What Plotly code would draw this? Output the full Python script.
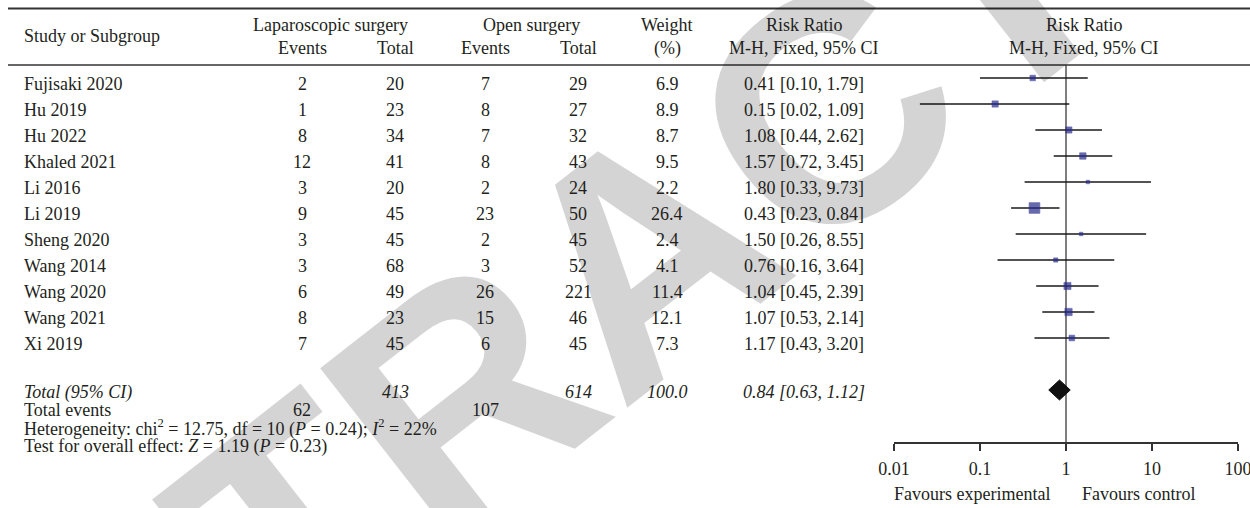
import math
import plotly.graph_objects as go

# ---------------- data ----------------
studies = ["Fujisaki 2020", "Hu 2019", "Hu 2022", "Khaled 2021", "Li 2016", "Li 2019",
           "Sheng 2020", "Wang 2014", "Wang 2020", "Wang 2021", "Xi 2019"]
lap_events = [2, 1, 8, 12, 3, 9, 3, 3, 6, 8, 7]
lap_total = [20, 23, 34, 41, 20, 45, 45, 68, 49, 23, 45]
open_events = [7, 8, 7, 8, 2, 23, 2, 3, 26, 15, 6]
open_total = [29, 27, 32, 43, 24, 50, 45, 52, 221, 46, 45]
weight = [6.9, 8.9, 8.7, 9.5, 2.2, 26.4, 2.4, 4.1, 11.4, 12.1, 7.3]
rr = [0.41, 0.15, 1.08, 1.57, 1.80, 0.43, 1.50, 0.76, 1.04, 1.07, 1.17]
ci_low = [0.10, 0.02, 0.44, 0.72, 0.33, 0.23, 0.26, 0.16, 0.45, 0.53, 0.43]
ci_high = [1.79, 1.09, 2.62, 3.45, 9.73, 0.84, 8.55, 3.64, 2.39, 2.14, 3.20]

total_lap = 413
total_open = 614
total_weight = 100.0
total_rr = 0.84
total_low = 0.63
total_high = 1.12
total_events_lap = 62
total_events_open = 107

het_label = "Heterogeneity: chi<sup>2</sup> = 12.75, df = 10 (<i>P</i> = 0.24); <i>I</i><sup>2</sup> = 22%"
test_label = "Test for overall effect: <i>Z</i> = 1.19 (<i>P</i> = 0.23)"
axis_ticks = [0.01, 0.1, 1, 10, 100]
axis_ticktext = ["0.01", "0.1", "1", "10", "100"]
favours_left = "Favours experimental"
favours_right = "Favours control"

# ---------------- layout helpers ----------------
W, H = 1250, 508
ROW0, PITCH = 78, 26           # pixel y of first study row, row pitch
FONT = "Liberation Serif"
FS = 18
TXT = "#231f20"
NAVY = "#262a8c"


def r(p):
    """pixel y -> row coordinate"""
    return (p - ROW0) / PITCH


def px(x):
    return x / W


annotations = []

# watermark (drawn first so table text sits on top)
annotations.append(dict(
    text="<b>RETRACTED</b>", x=0.515, y=0.50, xref="paper", yref="paper",
    showarrow=False, textangle=-38,
    font=dict(family="Liberation Sans", size=320, color="rgba(0,0,0,0.17)")))


def txt(x, y, s, anchor="center", size=FS, italic=False):
    if italic:
        s = "<i>" + s + "</i>"
    annotations.append(dict(text=s, x=px(x), y=y, xref="paper", yref="y",
                            xanchor=anchor, yanchor="middle", showarrow=False,
                            font=dict(family=FONT, size=size, color=TXT)))


# column centres (pixels)
C_STUDY = 22
C_LE, C_LT = 302, 395
C_OE, C_OT = 485, 578
C_W = 667
C_CI = 804
C_PLOT = 1084

# headers
txt(C_STUDY, r(36), "Study or Subgroup", "left")
txt(330, r(25), "Laparoscopic surgery")
txt(531, r(25), "Open surgery")
txt(C_W, r(25), "Weight")
txt(C_CI, r(25), "Risk Ratio")
txt(C_PLOT, r(25), "Risk Ratio")
txt(C_LE, r(48), "Events")
txt(C_LT, r(48), "Total")
txt(C_OE, r(48), "Events")
txt(C_OT, r(48), "Total")
txt(C_W, r(48), "(%)")
txt(C_CI, r(48), "M-H, Fixed, 95% CI")
txt(C_PLOT, r(48), "M-H, Fixed, 95% CI")

# study rows
TOFF = 6 / PITCH
for i, s in enumerate(studies):
    y = i + TOFF
    txt(C_STUDY, y, s, "left")
    txt(C_LE, y, str(lap_events[i]))
    txt(C_LT, y, str(lap_total[i]))
    txt(C_OE, y, str(open_events[i]))
    txt(C_OT, y, str(open_total[i]))
    txt(C_W, y, f"{weight[i]:.1f}")
    txt(C_CI, y, f"{rr[i]:.2f} [{ci_low[i]:.2f}, {ci_high[i]:.2f}]")

# totals
TOT_ROW = len(studies) + 1
yt = r(392)
txt(C_STUDY, yt, "Total (95% CI)", "left", italic=True)
txt(C_LT, yt, str(total_lap), italic=True)
txt(C_OT, yt, str(total_open), italic=True)
txt(C_W, yt, f"{total_weight:.1f}", italic=True)
txt(C_CI, yt, f"{total_rr:.2f} [{total_low:.2f}, {total_high:.2f}]", italic=True)
txt(C_STUDY, r(410), "Total events", "left")
txt(C_LE, r(410), str(total_events_lap))
txt(C_OE, r(410), str(total_events_open))
txt(C_STUDY, r(428), het_label, "left")
txt(C_STUDY, r(446), test_label, "left")

# favours labels
txt(1052, r(494), favours_left, "right")
txt(1080, r(494), favours_right, "left")

# ---------------- traces ----------------
fig = go.Figure()

AXIS_Y = r(442)
# null line
fig.add_trace(go.Scatter(x=[1, 1], y=[r(65), AXIS_Y], mode="lines",
                         line=dict(color="#555555", width=1.5), hoverinfo="skip"))

# CI whiskers
wx, wy = [], []
for i in range(len(studies)):
    wx += [ci_low[i], ci_high[i], None]
    wy += [i, i, None]
fig.add_trace(go.Scatter(x=wx, y=wy, mode="lines",
                         line=dict(color="#1a1a1a", width=1.5), hoverinfo="skip"))

# point estimates, square size ~ sqrt(weight)
sizes = [max(3.5, 2.1 * math.sqrt(w)) for w in weight]
fig.add_trace(go.Scatter(x=rr, y=list(range(len(studies))), mode="markers",
                         marker=dict(symbol="square", size=sizes, color=NAVY,
                                     line=dict(width=0.6, color=NAVY)),
                         hoverinfo="skip"))

# pooled diamond
hh = 10 / PITCH
fig.add_trace(go.Scatter(x=[total_low, total_rr, total_high, total_rr, total_low],
                         y=[TOT_ROW, TOT_ROW - hh, TOT_ROW, TOT_ROW + hh, TOT_ROW],
                         mode="lines", fill="toself", fillcolor="#111111",
                         line=dict(color="#111111", width=1), hoverinfo="skip"))

# rules
shapes = [
    dict(type="line", xref="paper", yref="y", x0=px(8), x1=1, y0=r(8.5), y1=r(8.5),
         line=dict(color="#333333", width=2)),
    dict(type="line", xref="paper", yref="y", x0=px(8), x1=1, y0=r(65), y1=r(65),
         line=dict(color="#333333", width=1.5)),
]

fig.update_layout(
    width=W, height=H,
    margin=dict(l=0, r=0, t=0, b=0, autoexpand=False),
    paper_bgcolor="white", plot_bgcolor="white",
    showlegend=False,
    annotations=annotations,
    shapes=shapes,
    xaxis=dict(type="log", range=[-2, 2], domain=[px(894), px(1238)],
               anchor="free", position=1 - 442 / H, automargin=False,
               showline=True, linecolor="#333333", linewidth=1.5,
               ticks="outside", ticklen=7, tickwidth=1.5, tickcolor="#333333",
               tickvals=axis_ticks, ticktext=axis_ticktext,
               ticklabelstandoff=3, ticklabeloverflow="allow",
               tickfont=dict(family=FONT, size=FS, color=TXT),
               showgrid=False, zeroline=False),
    yaxis=dict(range=[r(H), r(0)], domain=[0, 1], visible=False, automargin=False,
               showgrid=False, zeroline=False),
)

fig.write_html("out.html",
               config={"displayModeBar": False, "staticPlot": True},
               post_script="document.body.style.margin='0px';"
                           "document.body.style.overflow='hidden';")
